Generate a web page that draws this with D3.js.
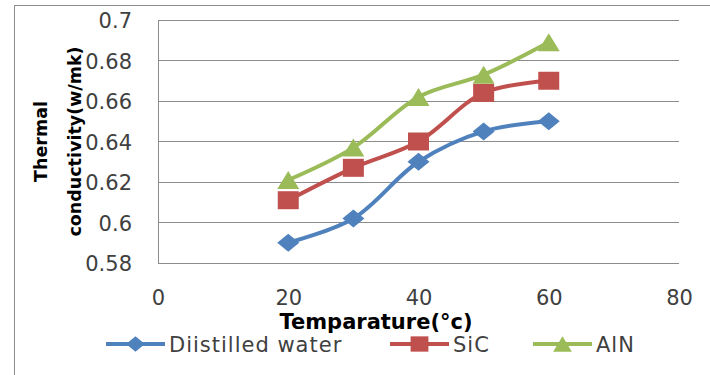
<!DOCTYPE html>
<html><head><meta charset="utf-8">
<script src="https://cdn.jsdelivr.net/npm/d3@7"></script>
<style>body{margin:0;background:#fff}svg{display:block}</style>
</head><body>
<svg id="c" width="710" height="375"></svg>
<script>
const temps = [20, 30, 40, 50, 60];
const water = [0.590, 0.602, 0.630, 0.645, 0.650];
const sic = [0.611, 0.627, 0.640, 0.664, 0.670];
const aln = [0.621, 0.637, 0.662, 0.673, 0.689];
const seriesNames = ["Diistilled water", "SiC", "AlN"];
const colors = ["#4F81BD", "#C0504D", "#9BBB59"];
const xTicks = [0, 20, 40, 60, 80];
const yTicks = [0.58, 0.6, 0.62, 0.64, 0.66, 0.68, 0.7];

const svg = d3.select("#c");
const font = "'DejaVu Sans', Verdana, sans-serif";
svg.append("rect").attr("x",14.5).attr("y",5.5).attr("width",720).attr("height",400)
  .attr("fill","#fff").attr("stroke","#8c8c8c").attr("stroke-width",1);

const L=158, R=679, T=20, B=263;
const x = d3.scaleLinear().domain([0,80]).range([L,R]);
const y = d3.scaleLinear().domain([0.58,0.7]).range([B,T]);

const g = svg.append("g");
g.selectAll("line.grid").data(yTicks).join("line")
  .attr("x1",L).attr("x2",R).attr("y1",d=>Math.round(y(d))+0.5).attr("y2",d=>Math.round(y(d))+0.5)
  .attr("stroke","#8c8c8c").attr("stroke-width",1);
g.append("line").attr("x1",L+0.5).attr("x2",L+0.5).attr("y1",T).attr("y2",B+0.5)
  .attr("stroke","#8c8c8c");

const yAxis = d3.axisLeft(y).tickValues(yTicks).tickSize(0).tickPadding(0).tickFormat(d=>String(+d.toFixed(2)));
const ya = svg.append("g").attr("transform",`translate(132,0)`).call(yAxis);
ya.select(".domain").remove();
ya.selectAll("text").attr("font-family",font).attr("font-size",21).attr("fill","#404040").attr("dy","0.36em");

const xAxis = d3.axisBottom(x).tickValues(xTicks).tickSize(0).tickPadding(0);
const xa = svg.append("g").attr("transform",`translate(0,0)`).call(xAxis);
xa.select(".domain").remove();
xa.selectAll("text").attr("font-family",font).attr("font-size",21).attr("fill","#404040").attr("y",305).attr("dy",0);

svg.append("text").attr("x",376).attr("y",329).attr("text-anchor","middle")
  .attr("font-family",font).attr("font-size",21).attr("font-weight","bold").attr("fill","#000")
  .text("Temparature(°c)");
const yt = svg.append("text").attr("transform",`translate(47,${(T+B)/2}) rotate(-90)`)
  .attr("text-anchor","middle").attr("font-family",font).attr("font-size",17.5).attr("font-weight","bold");
yt.append("tspan").attr("x",0).attr("dy",0).text("Thermal");
yt.append("tspan").attr("x",0).attr("dy",34).text("conductivity(w/mk)");

function marker(k, s) {
  const w = 11*s, h = 9*s;
  if (k===0) return `M0,${-h}L${w},0L0,${h}L${-w},0Z`;
  if (k===1) return `M${-10.5*s},${-9*s}h${21*s}v${18*s}h${-21*s}Z`;
  return `M0,${-h}L${w},${h}L${-w},${h}Z`;
}

const data = [water, sic, aln];
const line = d3.line().x((d,i)=>x(temps[i])).y(d=>y(d)).curve(d3.curveCatmullRom);

data.forEach((vals,k)=>{
  svg.append("path").attr("d",line(vals)).attr("fill","none").attr("stroke",colors[k]).attr("stroke-width",4);
  svg.selectAll(null).data(vals).join("path")
    .attr("transform",(d,i)=>`translate(${x(temps[i])},${y(d)})`)
    .attr("d",marker(k,1)).attr("fill",colors[k]);
});

const legX = [106, 390, 533];
const ly = 344;
seriesNames.forEach((n,k)=>{
  const lg = svg.append("g").attr("transform",`translate(${legX[k]},${ly})`);
  lg.append("line").attr("x1",0).attr("x2",59).attr("y1",0).attr("y2",0).attr("stroke",colors[k]).attr("stroke-width",4);
  lg.append("path").attr("transform",`translate(29.5,0)`).attr("d",marker(k,0.85)).attr("fill",colors[k]);
  lg.append("text").attr("x",63).attr("y",0).attr("dy","0.36em").attr("font-family",font).attr("font-size",21)
    .attr("letter-spacing",1).attr("fill","#404040").text(n);
});
</script>
</body></html>
